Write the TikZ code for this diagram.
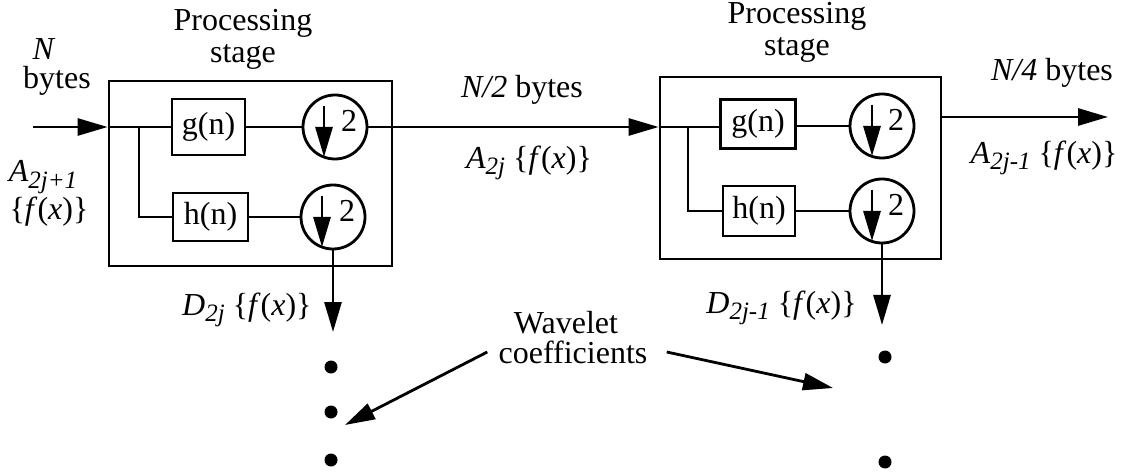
\documentclass[tikz,border=0pt]{standalone}
\usepackage{fontspec}
\setmainfont{Liberation Serif}
\renewcommand{\familydefault}{\rmdefault}
\usetikzlibrary{arrows.meta}
\newcommand{\mysub}[1]{\raisebox{-0.45ex}{\fontsize{12.5}{12.5}\selectfont\itshape #1}}
\begin{document}
\begin{tikzpicture}[x=0.5pt,y=-0.5pt,
  line width=1.4pt,
  every node/.style={font=\rmfamily\fontsize{16}{16}\selectfont, inner sep=1pt},
  stagebox/.style={draw, inner sep=0pt},
  filt/.style={draw, inner sep=0pt},
  dsamp/.style={draw, circle, minimum size=32pt, inner sep=0pt},
  arr/.style={-{Triangle[length=15pt,width=8.5pt]}},
  dotnode/.style={circle, fill, inner sep=0pt, minimum size=6.5pt},
  lbl/.style={align=center}]
\useasboundingbox (0,0) rectangle (1122,475);

% ---------- stage 1 ----------
\node[stagebox, minimum width=141.5pt, minimum height=92.5pt] (box1) at (250.5,173.5) {};
\node[filt, minimum width=36.5pt, minimum height=28pt] (g1) at (208.5,127) {g(n)};
\node[filt, minimum width=37.5pt, minimum height=24pt] (h1) at (210.5,217) {h(n)};
\node[dsamp] (c1a) at (335,127) {};
\node[dsamp] (c1b) at (333,217) {};
\coordinate (in) at (33,127);
\coordinate (br1) at (139,127);
\draw[arr] (in) -- (in -| box1.west);
\draw (in -| box1.west) -- (g1.west);
\draw (br1) |- (h1.west);
\draw (g1.east) -- (c1a.west);
\draw (h1.east) -- (c1b.west);
\draw[arr] ([shift={(-11,-21)}]c1a.center) -- ([shift={(-11,30)}]c1a.center);
\node at ([shift={(14,-6)}]c1a.center) {2};
\draw[arr] ([shift={(-11,-21)}]c1b.center) -- ([shift={(-11,30)}]c1b.center);
\node at ([shift={(14,-6)}]c1b.center) {2};

% ---------- stage 2 ----------
\node[stagebox, minimum width=140.5pt, minimum height=91pt] (box2) at (800.5,168) {};
\node[filt, minimum width=37.5pt, minimum height=24.5pt] (g2) at (758,124) {g(n)};
\node[filt, minimum width=36pt, minimum height=25pt] (h2) at (759,211) {h(n)};
\node[dsamp] (c2a) at (882,126) {};
\node[dsamp] (c2b) at (882,211) {};
\coordinate (br2) at (688,127);
\draw[arr] (c1a.east) -- (c1a.east -| box2.west);
\draw (c1a.east -| box2.west) -- (g2.west |- c1a.east);
\draw (br2) |- (h2.west);
\draw (g2.east |- c2a.west) -- (c2a.west);
\draw (h2.east) -- (c2b.west);
\draw[arr] ([shift={(-10,-21)}]c2a.center) -- ([shift={(-10,30)}]c2a.center);
\node at ([shift={(14,-6)}]c2a.center) {2};
\draw[arr] ([shift={(-10,-21)}]c2b.center) -- ([shift={(-10,30)}]c2b.center);
\node at ([shift={(14,-6)}]c2b.center) {2};
\coordinate (o2) at (1108,117);
\draw[arr] (o2 -| box2.east) -- (o2);

% ---------- detail outputs ----------
\coordinate (d1) at (333,332);
\coordinate (d2) at (882,325);
\draw[arr] (c1b.south) -- (d1);
\draw[arr] (c2b.south) -- (d2);
\node[dotnode] (p1) at (331,367) {};
\node[dotnode] (p2) at (331,412) {};
\node[dotnode] (p3) at (331,460) {};
\node[dotnode] (q1) at (885,357) {};
\node[dotnode] (q3) at (885,462) {};

% ---------- labels ----------
\node[lbl] (ps1) at (243,39) {Processing\\stage};
\node[lbl] (ps2) at (797,32) {Processing\\stage};
\node (nlab) at (44,49) {\textit{N}};
\node (blab) at (57,81) {bytes};
\node (a1) at (43,177) {\textit{A}\mysub{2j+1}};
\node (f1) at (49,212) {\{\textit{f}(\textit{x})\}};
\node (n2) at (522,90) {\textit{N/2} bytes};
\node (a2) at (529,163) {\textit{A}\mysub{2j} \{\textit{f}(\textit{x})\}};
\node (n4) at (1052,73) {\textit{N/4} bytes};
\node (a3) at (1044,158) {\textit{A}\mysub{2j-1} \{\textit{f}(\textit{x})\}};
\node[anchor=east] (dl1) at (315,310) {\textit{D}\mysub{2j} \{\textit{f}(\textit{x})\}};
\node[anchor=east] (dl2) at (860,308) {\textit{D}\mysub{2j-1} \{\textit{f}(\textit{x})\}};
\node (wav) at (566,323) {Wavelet};
\node (coef) at (573,352) {coefficients};
\coordinate (t1) at (345,425);
\coordinate (t2) at (833,388);
\draw[arr] ([xshift=-4pt]coef.west) -- (t1);
\draw[arr] ([xshift=8pt]coef.east) -- (t2);
\end{tikzpicture}
\end{document}
